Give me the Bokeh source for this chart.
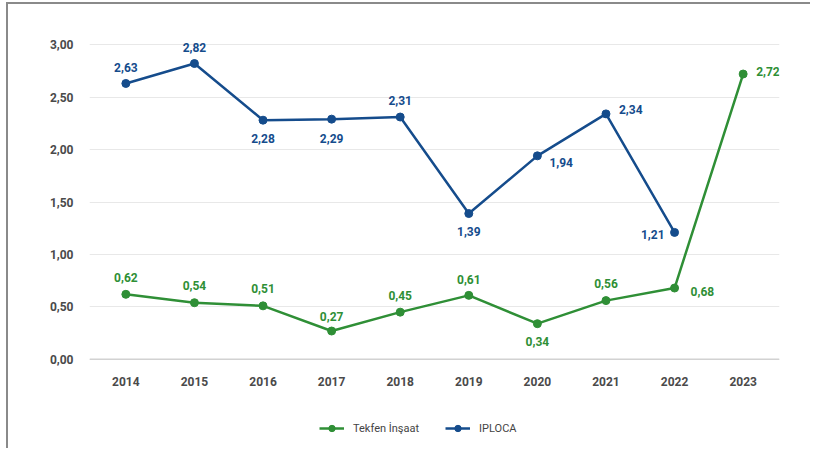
from bokeh.plotting import figure
from bokeh.layouts import column
from bokeh.models import (Range1d, FixedTicker, CustomJSTickFormatter, Legend, LegendItem,
                          Span, ColumnDataSource)
from bokeh.core.properties import value
from bokeh.embed import file_html
from bokeh.resources import INLINE

# ---- data ----
years = [2014, 2015, 2016, 2017, 2018, 2019, 2020, 2021, 2022, 2023]
tekfen = [0.62, 0.54, 0.51, 0.27, 0.45, 0.61, 0.34, 0.56, 0.68, 2.72]
iploca_years = [2014, 2015, 2016, 2017, 2018, 2019, 2020, 2021, 2022]
iploca = [2.63, 2.82, 2.28, 2.29, 2.31, 1.39, 1.94, 2.34, 1.21]
y_ticks = [0, 0.5, 1.0, 1.5, 2.0, 2.5, 3.0]
series_names = ["Tekfen İnşaat", "IPLOCA"]

# ---- label placement (style) ----
tek_dx = [0, 0, 0, 0, 0, 0, 0, 0, 16, 13]
tek_dy = [-17, -17, -17, -15, -17, -16, 18, -17, 3, -3]
tek_align = ["center"] * 8 + ["left", "left"]
ipl_dx = [0, 0, 0, 0, 0, 0, 12, 13, -10]
ipl_dy = [-16, -16, 18, 19, -17, 18, 7, -4, 2]
ipl_align = ["center"] * 6 + ["left", "left", "right"]

BLUE = "#154c8c"
GREEN = "#2f8f36"
FONT = "Roboto"
BORDER = "2px solid #8a8a8a"

p = figure(width=804, height=398, output_backend="svg", toolbar_location=None,
           x_range=Range1d(2013.47, 2023.53), y_range=Range1d(-0.03, 3.03),
           min_border_left=81, min_border_right=33, min_border_top=37, min_border_bottom=40,
           margin=(2, 0, 0, 6),
           styles={"border-left": BORDER, "border-top": BORDER})
p.outline_line_color = None
p.background_fill_color = "white"
p.border_fill_color = "white"

p.xgrid.grid_line_color = None
p.ygrid.grid_line_color = "#e8e8e8"
p.ygrid.grid_line_width = 1

p.yaxis.ticker = FixedTicker(ticks=y_ticks)
p.yaxis.formatter = CustomJSTickFormatter(code="return tick.toFixed(2).replace('.', ',');")
p.xaxis.ticker = FixedTicker(ticks=years)
p.xaxis.formatter = CustomJSTickFormatter(code="return tick.toFixed(0);")
for ax in (p.xaxis, p.yaxis):
    ax.axis_line_color = None
    ax.major_tick_line_color = None
    ax.minor_tick_line_color = None
    ax.major_label_text_font = FONT
    ax.major_label_text_font_size = "12px"
    ax.major_label_text_font_style = "bold"
    ax.major_label_text_color = "#4a4a4a"
p.yaxis.major_label_standoff = 10
p.xaxis.major_label_standoff = 8

p.add_layout(Span(location=0, dimension="width", line_color="#d2d2d2", line_width=1.5))

# series
src_t = ColumnDataSource(dict(x=years, y=tekfen, lab=[f"{v:.2f}".replace(".", ",") for v in tekfen],
                              dx=tek_dx, dy=tek_dy, al=tek_align))
src_i = ColumnDataSource(dict(x=iploca_years, y=iploca, lab=[f"{v:.2f}".replace(".", ",") for v in iploca],
                              dx=ipl_dx, dy=ipl_dy, al=ipl_align))

p.line("x", "y", source=src_t, line_color=GREEN, line_width=2.5)
p.scatter("x", "y", source=src_t, size=8, fill_color=GREEN, line_color=GREEN)
p.line("x", "y", source=src_i, line_color=BLUE, line_width=2.5)
p.scatter("x", "y", source=src_i, size=8, fill_color=BLUE, line_color=BLUE)

p.text("x", "y", text="lab", source=src_t, x_offset="dx", y_offset="dy", text_align="al",
       text_baseline="middle", text_color=GREEN, text_font=value(FONT),
       text_font_size="12px", text_font_style="bold")
p.text("x", "y", text="lab", source=src_i, x_offset="dx", y_offset="dy", text_align="al",
       text_baseline="middle", text_color=BLUE, text_font=value(FONT),
       text_font_size="12px", text_font_style="bold")

# ---- legend strip (same series, ranges set so that only the legend shows) ----
lg = figure(width=804, height=48, output_backend="svg", toolbar_location=None,
            x_range=Range1d(0, 1), y_range=Range1d(0, 1),
            x_axis_type=None, y_axis_type=None,
            min_border_left=0, min_border_right=0, min_border_top=0, min_border_bottom=0,
            margin=(0, 0, 0, 6), styles={"border-left": BORDER})
lg.outline_line_color = None
lg.xgrid.grid_line_color = None
lg.ygrid.grid_line_color = None
glt = lg.line("x", "y", source=src_t, line_color=GREEN, line_width=2.5)
gst = lg.scatter("x", "y", source=src_t, size=8, fill_color=GREEN, line_color=GREEN)
gli = lg.line("x", "y", source=src_i, line_color=BLUE, line_width=2.5)
gsi = lg.scatter("x", "y", source=src_i, size=8, fill_color=BLUE, line_color=BLUE)

legend = Legend(items=[LegendItem(label=series_names[0], renderers=[glt, gst]),
                       LegendItem(label=series_names[1], renderers=[gli, gsi])],
                location=(230, 12), orientation="horizontal",
                border_line_color=None, background_fill_alpha=0,
                padding=0, margin=0, spacing=26, glyph_width=25, glyph_height=16,
                label_standoff=9, label_height=16,
                label_text_font=FONT, label_text_font_size="11px", label_text_color="#444444")
lg.add_layout(legend, "center")

open("out.html", "w").write(file_html(column(p, lg, spacing=0), INLINE))
